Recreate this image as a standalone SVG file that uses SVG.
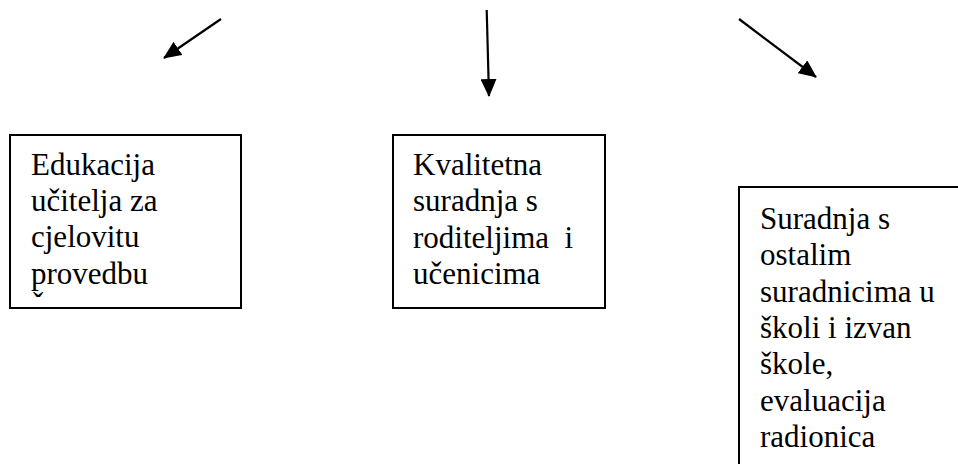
<svg xmlns="http://www.w3.org/2000/svg" width="958" height="464" viewBox="0 0 958 464">
<style>
.box{fill:#fff;stroke:#000;stroke-width:2}
.t{font-family:'Liberation Serif','Times New Roman','DejaVu Serif',serif;font-size:31px;fill:#000}
.c{stroke:#000;stroke-width:2.2;fill:none}
</style>
<defs>
<marker id="ah" markerUnits="userSpaceOnUse" markerWidth="18" markerHeight="16" refX="17" refY="8" orient="auto" viewBox="0 0 18 16">
<path d="M0,0 L18,8 L0,16 Z" fill="#000"/>
</marker>
</defs>
<rect width="958" height="464" fill="#fff"/>
<g id="connectors">
<line class="c" x1="221" y1="19" x2="164" y2="58" marker-end="url(#ah)"/>
<line class="c" x1="486.7" y1="10" x2="489" y2="96" marker-end="url(#ah)"/>
<line class="c" x1="739" y1="19" x2="816" y2="77" marker-end="url(#ah)"/>
</g>
<g id="node1">
<rect class="box" x="10" y="135" width="231" height="173"/>
<text class="t" font-family="Liberation Serif, serif" x="31" y="175">Edukacija</text>
<text class="t" font-family="Liberation Serif, serif" x="31" y="211">učitelja za</text>
<text class="t" font-family="Liberation Serif, serif" x="31" y="247">cjelovitu</text>
<text class="t" font-family="Liberation Serif, serif" x="31" y="284">provedbu</text>
<text class="t" font-family="Liberation Serif, serif" x="33" y="314">ˇ</text>
</g>
<g id="node2">
<rect class="box" x="393" y="135" width="212" height="173"/>
<text class="t" x="413" y="175">Kvalitetna</text>
<text class="t" x="413" y="211">suradnja s</text>
<text class="t" x="413" y="248" xml:space="preserve">roditeljima  i</text>
<text class="t" x="413" y="284">učenicima</text>
</g>
<g id="node3">
<rect class="box" x="739" y="187" width="240" height="300"/>
<text class="t" x="760" y="229">Suradnja s</text>
<text class="t" x="760" y="265">ostalim</text>
<text class="t" x="760" y="302">suradnicima u</text>
<text class="t" x="760" y="338">školi i izvan</text>
<text class="t" x="760" y="374">škole,</text>
<text class="t" x="760" y="411">evaluacija</text>
<text class="t" x="760" y="447">radionica</text>
</g>
</svg>
